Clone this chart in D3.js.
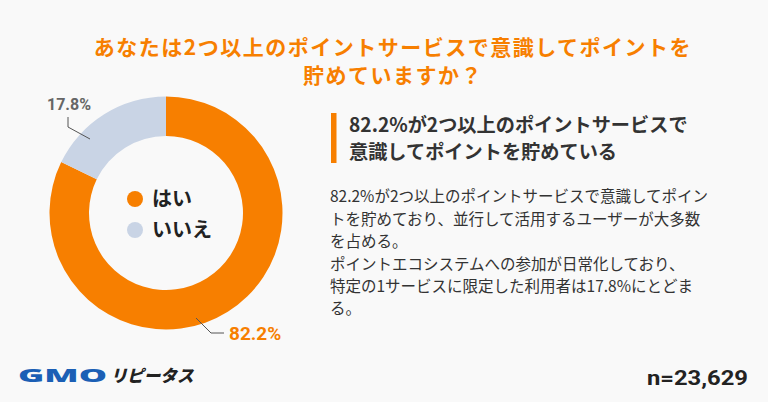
<!DOCTYPE html>
<html><head><meta charset="utf-8">
<script src="https://cdn.jsdelivr.net/npm/d3@7"></script>
<style>
html,body{margin:0;padding:0;background:#f9f9f9;}
svg{display:block;}
</style></head>
<body><svg id="c" width="768" height="402"></svg>
<script>
const categories = ["はい", "いいえ"];
const values = [82.2, 17.8];
const valueLabels = ["82.2%", "17.8%"];
const colors = ["#f77f00", "#c9d4e5"];
const titleLines = ["あなたは2つ以上のポイントサービスで意識してポイントを", "貯めていますか？"];
const headingLines = ["82.2%が2つ以上のポイントサービスで", "意識してポイントを貯めている"];
const bodyLines = [
  "82.2%が2つ以上のポイントサービスで意識してポイン",
  "トを貯めており、並行して活用するユーザーが大多数",
  "を占める。",
  "ポイントエコシステムへの参加が日常化しており、",
  "特定の1サービスに限定した利用者は17.8%にとどま",
  "る。"
];
const sampleLabel = "n=23,629";

const svg = d3.select("#c");
const JP = "'Noto Sans CJK JP','Noto Sans',sans-serif";
svg.append("rect").attr("width",768).attr("height",402).attr("fill","#f9f9f9");

// Title
svg.append("g").selectAll("text").data(titleLines).join("text")
  .attr("x",393).attr("y",(d,i)=>54.5+i*28.5)
  .attr("text-anchor","middle")
  .attr("font-family",JP).attr("font-weight",700).attr("font-size",21)
  .attr("letter-spacing",1.5)
  .attr("fill","#f77f00").text(d=>d);

// Donut
const cx=166, cy=213, rOuter=116.5, rInner=77;
const pie = d3.pie().sort(null).value(d=>d)(values);
const arc = d3.arc().innerRadius(rInner).outerRadius(rOuter);
const g = svg.append("g").attr("transform",`translate(${cx},${cy})`);
g.selectAll("path").data(pie).join("path")
  .attr("d",arc).attr("fill",(d,i)=>colors[i]);

// leader lines & value labels
const line = d3.line();
const leaders = [
  {pts:[[196,318],[211,333],[224,333]], lx:229, ly:333, anchor:"start", size:19, color:colors[0], txt:valueLabels[0]},
  {pts:[[90,139],[68,127],[68,117]], lx:69, ly:104, anchor:"middle", size:16, color:"#666", txt:valueLabels[1]}
];
svg.append("g").selectAll("path").data(leaders).join("path")
  .attr("d",d=>line(d.pts)).attr("fill","none").attr("stroke","#555").attr("stroke-width",1);
svg.append("g").selectAll("text").data(leaders).join("text")
  .attr("x",d=>d.lx).attr("y",d=>d.ly).attr("dy","0.35em")
  .attr("text-anchor",d=>d.anchor)
  .attr("font-family","Roboto,'Noto Sans',sans-serif").attr("font-weight",700)
  .attr("font-size",d=>d.size).attr("fill",d=>d.color).text(d=>d.txt);

// legend inside donut
const lg = svg.append("g").selectAll("g").data(categories).join("g")
  .attr("transform",(d,i)=>`translate(135,${199+i*31})`);
lg.append("circle").attr("r",8).attr("fill",(d,i)=>colors[i]);
lg.append("text").attr("x",17).attr("dy","0.35em")
  .attr("font-family",JP).attr("font-weight",700).attr("font-size",20)
  .attr("fill","#222").text(d=>d);

// right panel
svg.append("rect").attr("x",331).attr("y",113).attr("width",5.5).attr("height",50).attr("fill","#f77f00");
svg.append("g").selectAll("text").data(headingLines).join("text")
  .attr("x",349).attr("y",(d,i)=>125.5+i*26.5).attr("dy","0.35em")
  .attr("font-family",JP).attr("font-weight",700).attr("font-size",19.2)
  .attr("fill","#333").text(d=>d);
svg.append("g").selectAll("text").data(bodyLines).join("text")
  .attr("x",330).attr("y",(d,i)=>197+i*22.4).attr("dy","0.35em")
  .attr("font-family",JP).attr("font-weight",400).attr("font-size",15.5)
  .attr("fill","#333").text(d=>d);

// footer
svg.append("text").attr("x",647).attr("y",378).attr("dy","0.35em")
  .attr("textLength",101).attr("lengthAdjust","spacingAndGlyphs")
  .attr("font-family","Roboto,sans-serif").attr("font-weight",700).attr("font-size",20)
  .attr("fill","#222").text(sampleLabel);

const logo = svg.append("g");
logo.append("text").attr("x",18).attr("y",376).attr("dy","0.35em")
  .attr("textLength",89).attr("lengthAdjust","spacingAndGlyphs")
  .attr("font-family","'Noto Sans','DejaVu Sans',sans-serif").attr("font-weight",900).attr("font-size",18)
  .attr("fill","#1b5fb5").text("GMO");
logo.append("text").attr("transform","translate(112,376) skewX(-14)").attr("dy","0.35em")
  .attr("textLength",83).attr("lengthAdjust","spacingAndGlyphs")
  .attr("font-family",JP).attr("font-weight",900).attr("font-size",17)
  .attr("fill","#222").text("リピータス");
</script>
</body></html>
